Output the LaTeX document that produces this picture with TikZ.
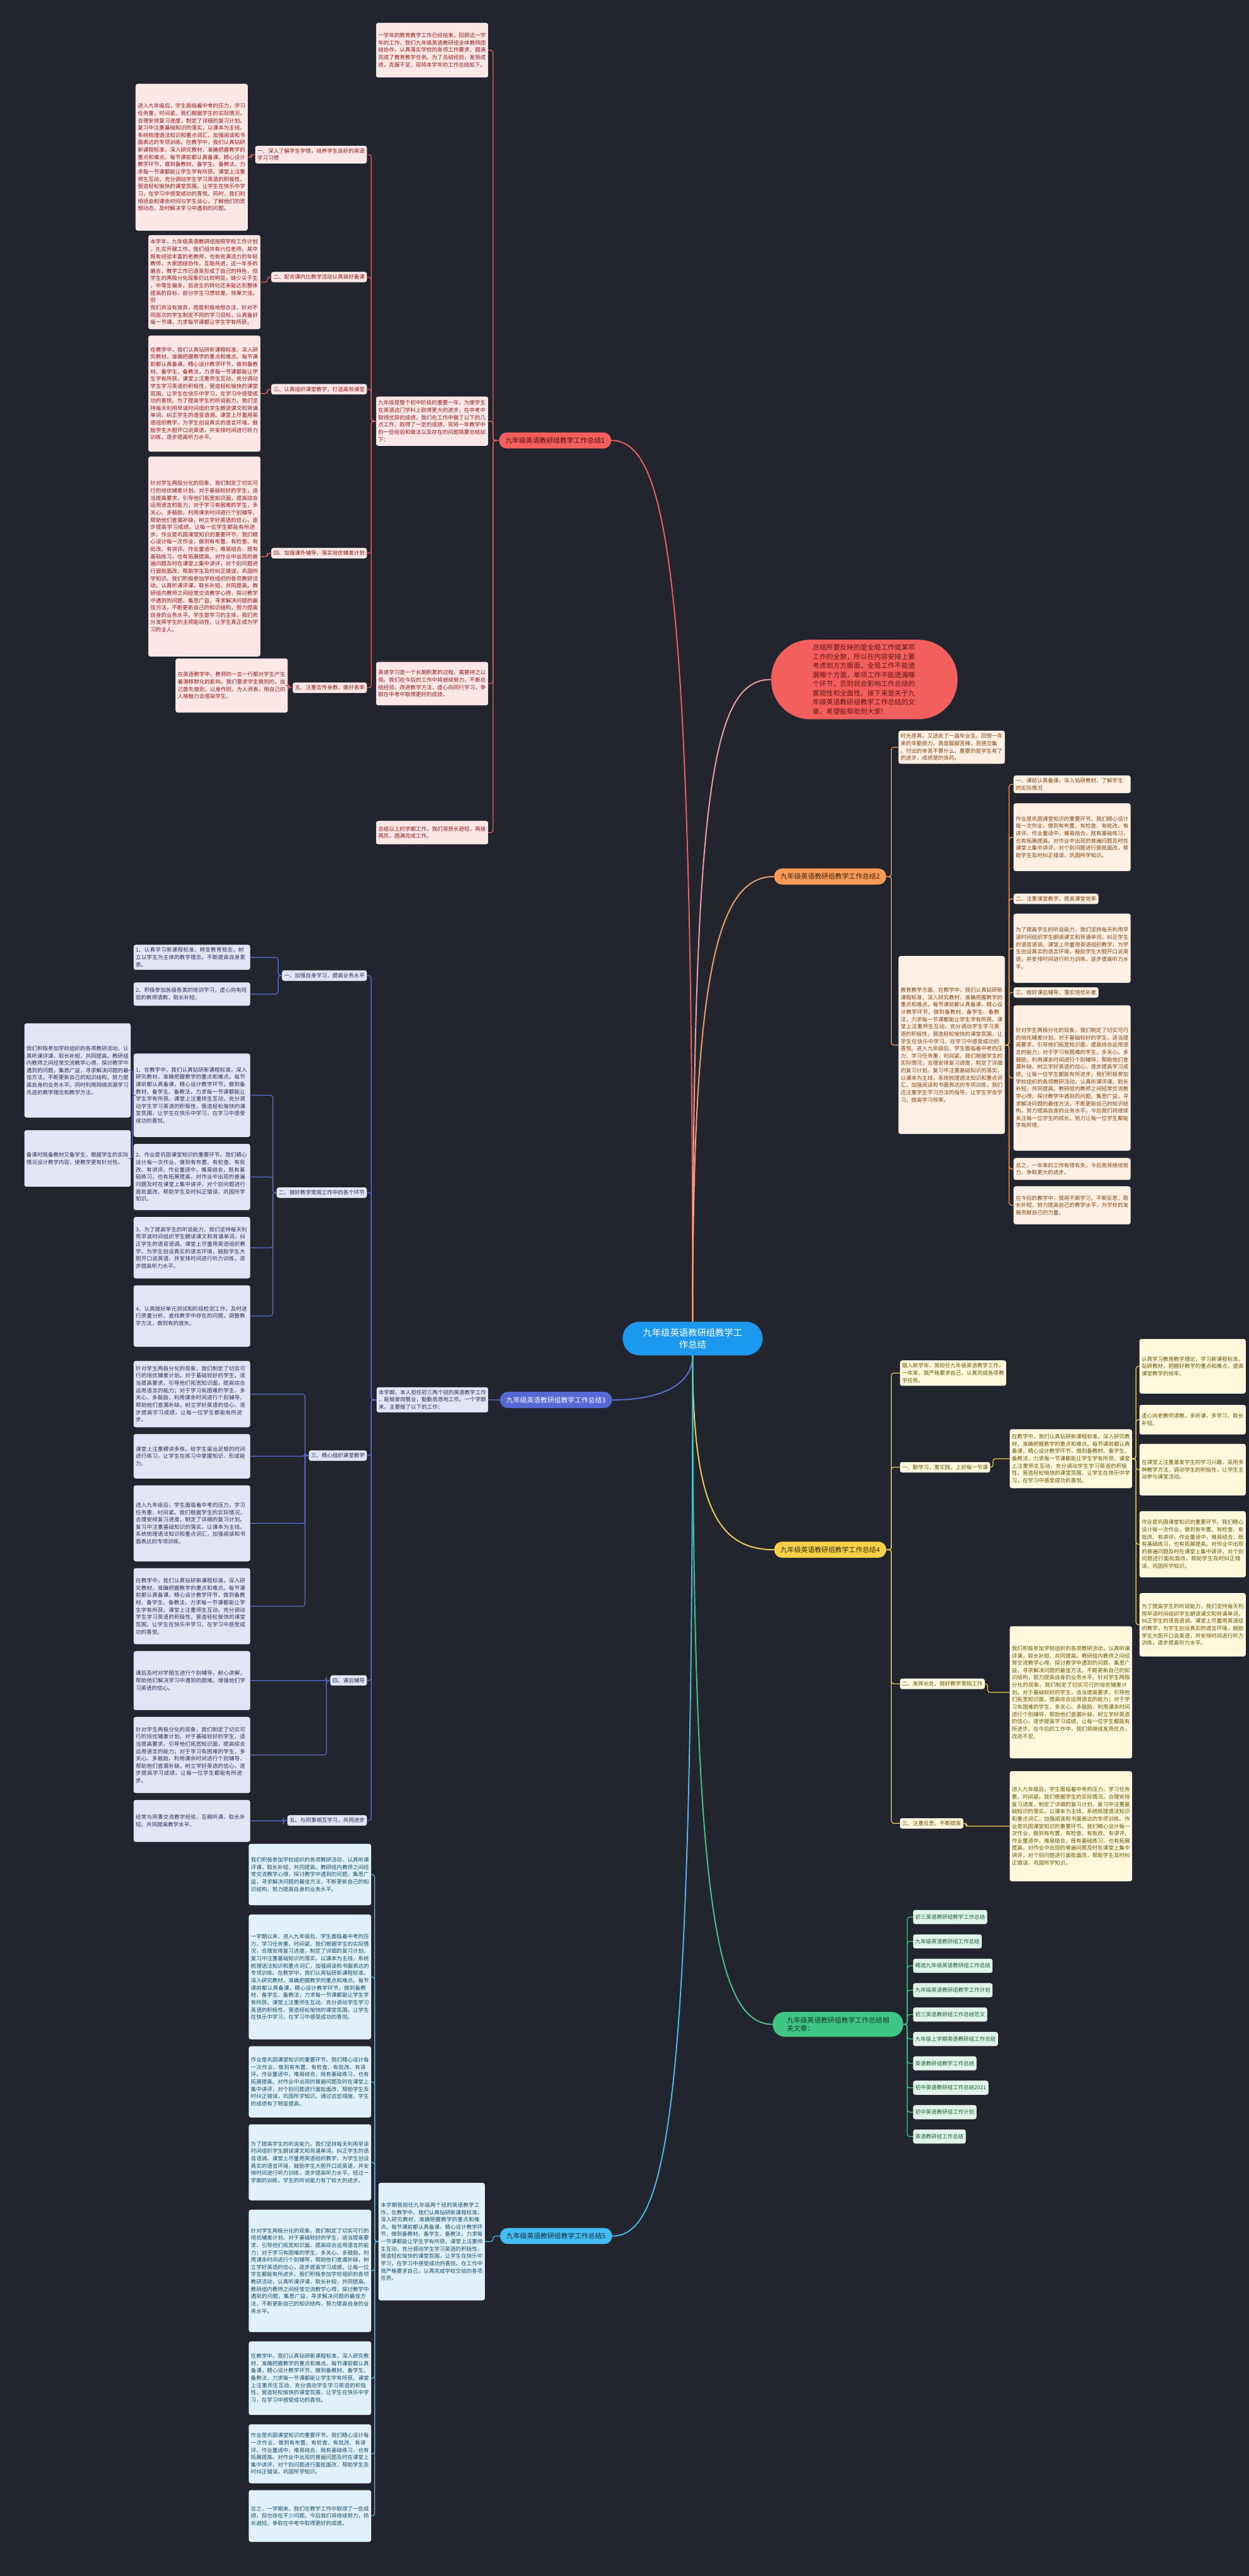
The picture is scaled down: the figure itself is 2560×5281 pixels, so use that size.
\documentclass[tikz,border=0pt]{standalone}
\usepackage{fontspec}
\setmainfont{Noto Sans CJK SC}
\usetikzlibrary{positioning}
\XeTeXlinebreaklocale "zh"
\XeTeXlinebreakskip=0pt plus 1pt

\definecolor{bgdark}{HTML}{22252E}
\definecolor{rootblue}{HTML}{1C99EE}
\definecolor{redmain}{HTML}{F25F5C}
\definecolor{redline}{HTML}{E8625F}
\definecolor{redfill}{HTML}{FDE6E6}
\definecolor{redtext}{HTML}{8E1C1C}
\definecolor{orgmain}{HTML}{F79A55}
\definecolor{orgline}{HTML}{F2A266}
\definecolor{orgfill}{HTML}{FFF0E3}
\definecolor{orgtext}{HTML}{7E4516}
\definecolor{indmain}{HTML}{5568D3}
\definecolor{indline}{HTML}{5B6FD6}
\definecolor{indfill}{HTML}{E2E5F6}
\definecolor{indtext}{HTML}{2A2F58}
\definecolor{ylwmain}{HTML}{F7CF48}
\definecolor{ylwline}{HTML}{F0CF4E}
\definecolor{ylwfill}{HTML}{FFF8DC}
\definecolor{ylwtext}{HTML}{6A560E}
\definecolor{grnmain}{HTML}{3FC682}
\definecolor{grnline}{HTML}{45C486}
\definecolor{grnfill}{HTML}{DFF5E9}
\definecolor{grntext}{HTML}{1E5C3A}
\definecolor{blumain}{HTML}{45BDF0}
\definecolor{bluline}{HTML}{4DB9E8}
\definecolor{blufill}{HTML}{DFF2FB}
\definecolor{blutext}{HTML}{1B4A66}

\newcommand\fleaf{\fontsize{11pt}{15pt}\selectfont}
\newcommand\fbranch{\fontsize{14pt}{18pt}\selectfont}
\newcommand\froot{\fontsize{18.5pt}{25pt}\selectfont}
\newcommand\fintro{\fontsize{14pt}{18.7pt}\selectfont}

\newcommand\txtA{在教学中，我们认真钻研新课程标准，深入研究教材，准确把握教学的重点和难点。每节课前都认真备课，精心设计教学环节，做到备教材、备学生、备教法，力求每一节课都能让学生学有所获。课堂上注重师生互动，充分调动学生学习英语的积极性，营造轻松愉快的课堂氛围，让学生在快乐中学习，在学习中感受成功的喜悦。}
\newcommand\txtB{针对学生两极分化的现象，我们制定了切实可行的培优辅差计划。对于基础较好的学生，适当提高要求，引导他们拓宽知识面，提高综合运用语言的能力；对于学习有困难的学生，多关心、多鼓励，利用课余时间进行个别辅导，帮助他们查漏补缺，树立学好英语的信心，逐步提高学习成绩，让每一位学生都能有所进步。}
\newcommand\txtC{作业是巩固课堂知识的重要环节。我们精心设计每一次作业，做到有布置、有检查、有批改、有讲评。作业量适中，难易结合，既有基础练习，也有拓展提高。对作业中出现的普遍问题及时在课堂上集中讲评，对个别问题进行面批面改，帮助学生及时纠正错误，巩固所学知识。}
\newcommand\txtD{为了提高学生的听说能力，我们坚持每天利用早读时间组织学生朗读课文和背诵单词，纠正学生的语音语调。课堂上尽量用英语组织教学，为学生创设真实的语言环境，鼓励学生大胆开口说英语，并安排时间进行听力训练，逐步提高听力水平。}
\newcommand\txtE{我们积极参加学校组织的各项教研活动，认真听课评课，取长补短，共同提高。教研组内教师之间经常交流教学心得，探讨教学中遇到的问题，集思广益，寻求解决问题的最佳方法，不断更新自己的知识结构，努力提高自身的业务水平。}
\newcommand\txtF{进入九年级后，学生面临着中考的压力，学习任务重，时间紧。我们根据学生的实际情况，合理安排复习进度，制定了详细的复习计划。复习中注重基础知识的落实，以课本为主线，系统梳理语法知识和重点词汇，加强阅读和书面表达的专项训练。}

\tikzstyle{box} = [rectangle, rounded corners=4pt, inner xsep=4pt, inner ysep=5pt,
                   align=left, font=\fleaf, line width=0.8pt]
\tikzstyle{pill} = [rectangle, rounded corners=16pt, minimum height=33pt,
                    inner xsep=13pt, font=\fbranch, line width=0.8pt]
\tikzstyle{leafR} = [box, anchor=north west, fill=redfill, draw=white!60!redfill, text=redtext, text width=221pt]
\tikzstyle{labR} = [box, anchor=east, fill=redfill, draw=white!60!redfill, text=redtext]
\tikzstyle{leafO} = [box, anchor=north west, fill=orgfill, draw=white!60!orgfill, text=orgtext]
\tikzstyle{leafI} = [box, anchor=north west, fill=indfill, draw=white!60!indfill, text=indtext]
\tikzstyle{labI} = [box, anchor=east, fill=indfill, draw=white!60!indfill, text=indtext]
\tikzstyle{leafY} = [box, anchor=north west, fill=ylwfill, draw=white!60!ylwfill, text=ylwtext]
\tikzstyle{leafG} = [box, anchor=west, fill=grnfill, draw=white!60!grnfill, text=grntext, minimum height=28pt]
\tikzstyle{leafB} = [box, anchor=north west, fill=blufill, draw=white!60!blufill, text=blutext]
\tikzstyle{lnR} = [draw=redline, line width=1.6pt, rounded corners=5pt]
\tikzstyle{lnO} = [draw=orgline, line width=1.6pt, rounded corners=5pt]
\tikzstyle{lnI} = [draw=indline, line width=1.6pt, rounded corners=5pt]
\tikzstyle{lnY} = [draw=ylwline, line width=1.6pt, rounded corners=5pt]
\tikzstyle{lnG} = [draw=grnline, line width=1.6pt, rounded corners=5pt]
\tikzstyle{lnB} = [draw=bluline, line width=1.6pt, rounded corners=5pt]

\begin{document}
\begin{tikzpicture}[x=1pt, y=-1pt]
    \fill[bgdark] (0,0) rectangle (2560,5281);
    \useasboundingbox (0,0) rectangle (2560,5281);

    % Root
    \node[rectangle, rounded corners=34pt, fill=rootblue, text=white, font=\froot,
          minimum width=287pt, minimum height=69pt, align=center] (root) at (1420,2744)
          {九年级英语教研组教学工\\作总结};
    \node[rectangle, rounded corners=80pt, fill=redmain, text=redtext!70!black, font=\fintro,
          minimum width=382pt, minimum height=163pt, text width=212pt, align=left] (intro) at (1772,1393)
          {总结所要反映的是全局工作或某项\\工作的全貌，所以在内容安排上要\\考虑到方方面面，全局工作不能遗\\漏哪个方面，单项工作不能遗漏哪\\个环节，否则就会影响工作总结的\\客观性和全面性。接下来是关于九\\年级英语教研组教学工作总结的文\\章，希望能帮助到大家!};

    % Branches
    \node[pill, fill=redmain, text=redtext!60!black] (b1) at (1138,903) {九年级英语教研组教学工作总结1};
    \node[pill, fill=orgmain, text=orgtext!50!black] (b2) at (1702,1797) {九年级英语教研组教学工作总结2};
    \node[pill, fill=indmain, text=white] (b3) at (1140,2870) {九年级英语教研组教学工作总结3};
    \node[pill, fill=ylwmain, text=ylwtext!50!black] (b4) at (1702,3177) {九年级英语教研组教学工作总结4};
    \node[pill, fill=grnmain, text=grntext!60!black, align=left, minimum width=267pt,
          minimum height=51pt, rounded corners=24pt] (b6) at (1718,4150) {九年级英语教研组教学工作总结相\\关文章：};
    \node[pill, fill=blumain, text=blutext!60!black] (b5) at (1140,4584) {九年级英语教研组教学工作总结5};

    \draw[redline, line width=2.5pt] (root.north) .. controls +(0,-1500) and +(120,0) .. (b1.east);
    \draw[redline!60!white, line width=2.5pt] (root.north) .. controls +(0,-1100) and +(-120,0) .. (intro.west);
    \draw[orgline, line width=2.5pt] (root.north) .. controls +(0,-700) and +(-120,0) .. (b2.west);
    \draw[indline, line width=2.5pt] (root.south) .. controls +(0,60) and +(100,0) .. (b3.east);
    \draw[ylwline, line width=2.5pt] (root.south) .. controls +(0,300) and +(-120,0) .. (b4.west);
    \draw[grnline, line width=2.5pt] (root.south) .. controls +(0,1100) and +(-120,0) .. (b6.west);
    \draw[bluline, line width=2.5pt] (root.south) .. controls +(0,1500) and +(120,0) .. (b5.east);

    % Branch 1
    \node[leafR, minimum height=111pt] (r1a) at (771,47) {一学年的教育教学工作已经结束，回顾这一学年的工作，我们九年级英语教研组全体教师团结协作，认真落实学校的各项工作要求，圆满完成了教育教学任务。为了总结经验，发扬成绩，克服不足，现将本学年的工作总结如下。};
    \node[leafR, minimum height=100pt] (r1b) at (771,813) {九年级是整个初中阶段的重要一年，为使学生\\在英语这门学科上取得更大的进步，在中考中\\取得优异的成绩，我们在工作中做了以下的几\\点工作，取得了一定的成绩，现将一年教学中\\的一些经验和做法以及存在的问题简要总结如\\下：};
    \node[leafR, minimum height=88pt] (r1d) at (771,1357) {英语学习是一个长期积累的过程，需要持之以恒。我们在今后的工作中将继续努力，不断总结经验，改进教学方法，虚心向同行学习，争取在中考中取得更好的成绩。};
    \node[leafR, minimum height=47pt] (r1c) at (771,1683) {总结以上的学期工作，我们将扬长避短，再接再厉，圆满完成工作。};

    \node[labR] (s1) at (752,317) {一、深入了解学生学情，培养学生良好的英语\\学习习惯};
    \node[labR] (s2) at (752,568) {二、配合课内比教学活动认真搞好备课};
    \node[labR] (s3) at (752,798) {三、认真组织课堂教学，打造高效课堂};
    \node[labR] (s4) at (752,1134) {四、加强课外辅导，落实培优辅差计划};
    \node[labR] (s5) at (752,1410) {五、注重言传身教，做好表率};

    \node[leafR, minimum height=300pt] (l1) at (278,172) {\txtF\txtA 同时，我们利用班会和课余时间与学生谈心，了解他们的思想动态，及时解决学习中遇到的问题。};
    \node[leafR, minimum height=192pt] (l2) at (304,482) {本学年，九年级英语教研组按照学校工作计划\\，扎实开展工作。我们组共有六位老师，其中\\既有经验丰富的老教师，也有充满活力的年轻\\教师。大家团结协作，互助共进，这一年多的\\磨合，教学工作已逐渐形成了自己的特色，但\\学生的两极分化现象仍比较明显，缺少尖子生\\，中等生偏多，后进生的转化还未能达到整体\\提高的目标，部分学生习惯较差，效果欠佳。但\\我们并没有放弃，而是积极地想办法，针对不\\同层次的学生制定不同的学习目标，认真备好每一节课，力求每节课都让学生学有所获。};
    \node[leafR, minimum height=237pt] (l3) at (304,688) {\txtA\txtD};
    \node[leafR, minimum height=409pt] (l4) at (304,936) {\txtB\txtC\txtE 学生是学习的主体，我们充分发挥学生的主观能动性，让学生真正成为学习的主人。};
    \node[leafR, minimum height=110pt] (l5) at (360,1350) {在英语教学中，教师的一言一行都对学生产生着潜移默化的影响。我们要求学生做到的，自己首先做到，以身作则，为人师表，用自己的人格魅力去感染学生。};

    \draw[lnR] (b1.west) -- ++(-12,0) |- (r1a.east);
    \draw[lnR] (b1.west) -- ++(-12,0) |- (r1b.east);
    \draw[lnR] (b1.west) -- ++(-12,0) |- (r1d.east);
    \draw[lnR] (b1.west) -- ++(-12,0) |- (r1c.east);
    \foreach \s in {s1,s2,s3,s4,s5}
        \draw[lnR] (r1b.west) -- ++(-10,0) |- (\s.east);
    \draw[lnR] (s1.west) -- ++(-8,0) |- (l1.east);
    \draw[lnR] (s2.west) -- ++(-8,0) |- (l2.east);
    \draw[lnR] (s3.west) -- ++(-8,0) |- (l3.east);
    \draw[lnR] (s4.west) -- ++(-8,0) |- (l4.east);
    \draw[lnR] (s5.west) -- ++(-8,0) |- (l5.east);

    % Branch 2
    \node[leafO, text width=209pt, minimum height=67pt] (o1) at (1842,1498) {时光荏苒，又送走了一届毕业生。回想一年\\来的辛勤努力，真是酸甜苦辣，百感交集\\。付出的辛苦不算什么，重要的是学生有了\\的进步，成绩是的良药。};
    \node[leafO, text width=209pt, minimum height=364pt] (o2) at (1842,1960) {教育教学方面，\txtA\txtF 我们还注重学生学习方法的指导，让学生学会学习，提高学习效率。};
    \node[leafO, text width=231pt] (f1) at (2078,1590) {一、课前认真备课，深入钻研教材，了解学生\\的实际情况};
    \node[leafO, text width=231pt, minimum height=138pt] (f2) at (2078,1647) {\txtC};
    \node[leafO] (f3) at (2078,1832) {二、注重课堂教学，提高课堂效率};
    \node[leafO, text width=231pt, minimum height=141pt] (f4) at (2078,1873) {\txtD};
    \node[leafO] (f5) at (2078,2024) {三、做好课后辅导，落实培优补差};
    \node[leafO, text width=231pt, minimum height=297pt] (f6) at (2078,2061) {\txtB\txtE 今后我们将继续关注每一位学生的成长，努力让每一位学生都能学有所得。};
    \node[leafO, text width=231pt, minimum height=44pt] (f7) at (2078,2374) {总之，一年来的工作有得有失，今后我将继续努力，争取更大的进步。};
    \node[leafO, text width=231pt, minimum height=77pt] (f8) at (2078,2432) {在今后的教学中，我将不断学习，不断反思，取长补短，努力提高自己的教学水平，为学校的发展贡献自己的力量。};

    \draw[lnO] (b2.east) -- ++(10,0) |- (o1.west);
    \draw[lnO] (b2.east) -- ++(10,0) |- (o2.west);
    \foreach \f in {f1,f2,f3,f4,f5,f6,f7,f8}
        \draw[lnO] (o2.east) -- ++(9,0) |- (\f.west);

    % Branch 3
    \node[leafI, text width=220pt] (g0) at (772,2844) {本学期，本人担任初三两个班的英语教学工作\\，能够爱岗敬业，勤勤恳恳地工作。一个学期\\来，主要做了以下的工作：};
    \node[labI] (h1) at (752,2000) {一、加强自身学习，提高业务水平};
    \node[labI] (h2) at (752,2445) {二、做好教学常规工作中的各个环节};
    \node[labI] (h3) at (752,2984) {三、精心组织课堂教学};
    \node[labI] (h4) at (752,3445) {四、课后辅导};
    \node[labI] (h5) at (752,3732) {五、与同事相互学习，共同进步};

    \node[leafI, text width=230pt, minimum height=50pt] (h11) at (274,1937) {1、认真学习新课程标准，转变教育观念，树立以学生为主体的教学理念，不断提高自身素质。};
    \node[leafI, text width=230pt, minimum height=47pt] (h12) at (274,2014) {2、积极参加各级各类的培训学习，虚心向有经验的教师请教，取长补短。};
    \node[leafI, text width=230pt, minimum height=170pt] (h21) at (274,2160) {1、\txtA};
    \node[leafI, text width=209pt, minimum height=192pt] (x1) at (50,2098) {\txtE 同时利用网络资源学习先进的教学理念和教学方法。};
    \node[leafI, text width=209pt, minimum height=115pt] (x2) at (50,2317) {备课时既备教材又备学生，根据学生的实际情况设计教学内容，使教学更有针对性。};
    \node[leafI, text width=230pt, minimum height=135pt] (h22) at (274,2345) {2、\txtC};
    \node[leafI, text width=230pt, minimum height=125pt] (h23) at (274,2495) {3、\txtD};
    \node[leafI, text width=230pt, minimum height=125pt] (h24) at (274,2635) {4、认真做好单元测试和阶段检测工作，及时进行质量分析，查找教学中存在的问题，调整教学方法，做到有的放矢。};
    \node[leafI, text width=230pt, minimum height=135pt] (h31) at (274,2790) {\txtB};
    \node[leafI, text width=230pt, minimum height=90pt] (h32) at (274,2940) {课堂上注重精讲多练，给学生留出足够的时间进行练习，让学生在练习中掌握知识，形成能力。};
    \node[leafI, text width=230pt, minimum height=155pt] (h33) at (274,3045) {\txtF};
    \node[leafI, text width=230pt, minimum height=155pt] (h34) at (274,3215) {\txtA};
    \node[leafI, text width=230pt, minimum height=120pt] (h41) at (274,3385) {课后及时对学困生进行个别辅导，耐心讲解，帮助他们解决学习中遇到的困难，增强他们学习英语的信心。};
    \node[leafI, text width=230pt, minimum height=155pt] (h42) at (274,3520) {\txtB};
    \node[leafI, text width=230pt, minimum height=85pt] (h51) at (274,3690) {经常与同事交流教学经验，互相听课，取长补短，共同提高教学水平。};

    \draw[lnI] (b3.west) -- (g0.east);
    \foreach \h in {h1,h2,h3,h4,h5}
        \draw[lnI] (g0.west) -- ++(-11,0) |- (\h.east);
    \foreach \a/\b in {h1/h11,h1/h12,h2/h21,h2/h22,h2/h23,h2/h24,h3/h31,h3/h32,h3/h33,h3/h34,h4/h41,h4/h42,h5/h51}
        \draw[lnI] (\a.west) -- ++(-8,0) |- (\b.east);
    \draw[lnI] (h21.west) -- ++(-3,0) |- (x1.east);
    \draw[lnI] (h21.west) -- ++(-3,0) |- (x2.east);

    % Branch 4
    \node[leafY, text width=209pt, minimum height=51pt] (y1) at (1845,2789) {踏入新学年，我担任九年级英语教学工作。一年来，我严格要求自己，认真完成各项教学任务。};
    \node[leafY, anchor=west] (y2) at (1845,3008) {一、勤学习，重实践，上好每一节课};
    \node[leafY, anchor=west] (y3) at (1845,3452) {二、发挥长处，做好教学常规工作};
    \node[leafY, anchor=west] (y4) at (1845,3738) {三、注重反思，不断提高};
    \node[leafY, text width=242pt, minimum height=120pt] (j1) at (2070,2930) {\txtA};
    \node[leafY, text width=242pt, minimum height=270pt] (j2) at (2070,3334) {\txtE\txtB 在今后的工作中，我们将继续发扬优点，改进不足。};
    \node[leafY, text width=242pt, minimum height=225pt] (j3) at (2070,3631) {\txtF\txtC};
    \node[leafY, text width=209pt, minimum height=111pt] (k1) at (2336,2745) {认真学习教育教学理论，学习新课程标准，钻研教材，把握好教学的重点和难点，提高课堂教学的效率。};
    \node[leafY, text width=209pt, minimum height=60pt] (k2) at (2336,2880) {虚心向老教师请教，多听课，多学习，取长补短。};
    \node[leafY, text width=209pt, minimum height=105pt] (k3) at (2336,2960) {在课堂上注重激发学生的学习兴趣，采用多种教学方法，调动学生的积极性，让学生主动参与课堂活动。};
    \node[leafY, text width=209pt, minimum height=135pt] (k4) at (2336,3098) {\txtC};
    \node[leafY, text width=209pt, minimum height=129pt] (k5) at (2336,3266) {\txtD};

    \foreach \y in {y1,y2,y3,y4}
        \draw[lnY] (b4.east) -- ++(10,0) |- (\y.west);
    \draw[lnY] (y2.east) -- ++(6,0) |- (j1.west);
    \draw[lnY] (y3.east) -- ++(6,0) |- (j2.west);
    \draw[lnY] (y4.east) -- ++(6,0) |- (j3.west);
    \foreach \k in {k1,k2,k3,k4,k5}
        \draw[lnY] (j1.east) -- ++(8,0) |- (\k.west);

    % Branch 6
    \node[leafG] (g1) at (1872,3930) {初三英语教研组教学工作总结};
    \node[leafG] (g2) at (1872,3980) {九年级英语教研组工作总结};
    \node[leafG] (g3) at (1872,4030) {精选九年级英语教研组工作总结};
    \node[leafG] (g4) at (1872,4080) {九年级英语教研组教学工作计划};
    \node[leafG] (g5) at (1872,4130) {初三英语教研组工作总结范文};
    \node[leafG] (g6) at (1872,4180) {九年级上学期英语教研组工作总结};
    \node[leafG] (g7) at (1872,4230) {英语教研组教学工作总结};
    \node[leafG] (g8) at (1872,4280) {初中英语教研组工作总结2021};
    \node[leafG] (g9) at (1872,4330) {初中英语教研组工作计划};
    \node[leafG] (g10) at (1872,4380) {英语教研组工作总结};
    \foreach \g in {g1,g2,g3,g4,g5,g6,g7,g8,g9,g10}
        \draw[lnG] (b6.east) -- ++(8,0) |- (\g.west);

    % Branch 5
    \node[leafB, text width=209pt, minimum height=240pt] (kb) at (776,4475) {本学期我担任九年级两个班的英语教学工作，\txtA 在工作中我严格要求自己，认真完成学校交给的各项任务。};
    \node[leafB, text width=242pt, minimum height=125pt] (m1) at (510,3780) {\txtE};
    \node[leafB, text width=242pt, minimum height=255pt] (m2) at (510,3925) {一学期以来，\txtF\txtA};
    \node[leafB, text width=242pt, minimum height=145pt] (m3) at (510,4195) {\txtC 通过这些措施，学生的成绩有了明显提高。};
    \node[leafB, text width=242pt, minimum height=155pt] (m4) at (510,4355) {\txtD 经过一学期的训练，学生的听说能力有了较大的进步。};
    \node[leafB, text width=242pt, minimum height=250pt] (m5) at (510,4530) {\txtB\txtE};
    \node[leafB, text width=242pt, minimum height=150pt] (m6) at (510,4800) {\txtA};
    \node[leafB, text width=242pt, minimum height=120pt] (m7) at (510,4970) {\txtC};
    \node[leafB, text width=242pt, minimum height=105pt] (m8) at (510,5105) {总之，一学期来，我们在教学工作中取得了一些成绩，但也存在不少问题。今后我们将继续努力，扬长避短，争取在中考中取得更好的成绩。};

    \draw[lnB] (b5.west) -- ++(-14,0) |- (kb.east);
    \foreach \m in {m1,m2,m3,m4,m5,m6,m7,m8}
        \draw[lnB] (kb.west) -- ++(-8,0) |- (\m.east);
\end{tikzpicture}
\end{document}
